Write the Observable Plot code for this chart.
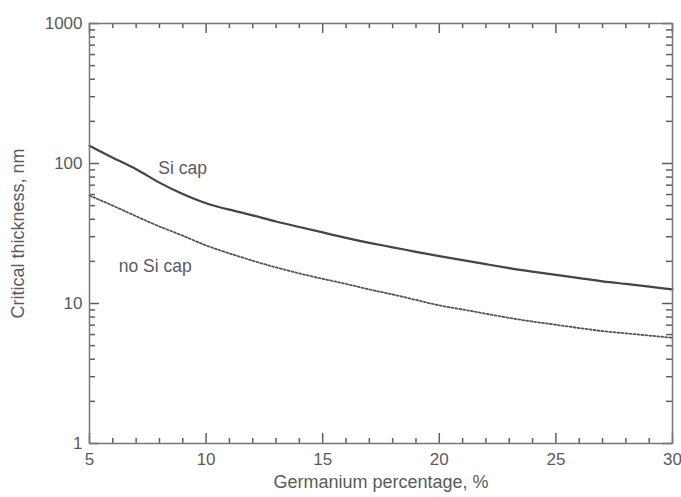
<!DOCTYPE html>
<html><head><meta charset="utf-8">
<script src="https://cdn.jsdelivr.net/npm/d3@7"></script>
<script src="https://cdn.jsdelivr.net/npm/@observablehq/plot@0.6"></script>
<style>body{margin:0;background:#fff;}</style>
</head><body><div id="chart"></div>
<script>
const germanium = [5,6,7,8,9,10,11,12,13,14,15,16,17,18,19,20,21,22,23,24,25,26,27,28,29,30];
const siCap   = [134,110,91,73,60.5,52,46.8,42.6,38.5,35.2,32.2,29.4,27.1,25.2,23.4,21.8,20.4,19.1,17.9,16.9,16.0,15.2,14.4,13.8,13.2,12.6];
const noSiCap = [59,50,42,35.5,30.5,26,22.8,20.2,18.1,16.4,15,13.8,12.6,11.6,10.6,9.7,9.06,8.45,7.89,7.43,7.05,6.68,6.35,6.12,5.9,5.69];
const xMajorTicks = [5,10,15,20,25,30];
const xMinorTicks = [6,7,8,9,11,12,13,14,16,17,18,19,21,22,23,24,26,27,28,29];
const yMajorTicks = [1,10,100,1000];
const yMinorTicks = [2,3,4,5,6,7,8,9,20,30,40,50,60,70,80,90,200,300,400,500,600,700,800,900];
const curveLabels = ["Si cap","no Si cap"];
const curveLabelX = [7.95, 6.25];
const curveLabelY = [93, 18.4];
const xTitle = "Germanium percentage, %";
const yTitle = "Critical thickness, nm";

const W = 681, H = 497, ML = 89, MR = 9, MT = 23, MB = 54;
const frameW = W - ML - MR, frameH = H - MT - MB;

const rows = germanium.map((g,i) => ({g, si: siCap[i], no: noSiCap[i]}));
const labels = curveLabels.map((t,i) => ({t, x: curveLabelX[i], y: curveLabelY[i]}));
const axisColor = "#777";
const tickColor = "#5e5e5e";
const textColor = "#5a5a5a";

const tickMarks = [];
for (const [ticks, size] of [[xMajorTicks, 10], [xMinorTicks, 5]]) {
  tickMarks.push(Plot.ruleX(ticks, {x: d => d, insetTop: frameH - size, stroke: tickColor, strokeWidth: 1.5}));
  tickMarks.push(Plot.ruleX(ticks, {x: d => d, insetBottom: frameH - size, stroke: tickColor, strokeWidth: 1.5}));
}
for (const [ticks, size] of [[yMajorTicks, 10], [yMinorTicks, 6]]) {
  tickMarks.push(Plot.ruleY(ticks, {y: d => d, insetRight: frameW - size, stroke: tickColor, strokeWidth: 1.5}));
  tickMarks.push(Plot.ruleY(ticks, {y: d => d, insetLeft: frameW - size, stroke: tickColor, strokeWidth: 1.5}));
}

const chart = Plot.plot({
  width: W,
  height: H,
  marginLeft: ML,
  marginRight: MR,
  marginTop: MT,
  marginBottom: MB,
  style: {fontFamily: "'Liberation Sans', Arial, sans-serif", fontSize: "17px", color: textColor, background: "#fff"},
  x: {domain: [5, 30]},
  y: {type: "log", domain: [1, 1000]},
  marks: [
    Plot.line(rows, {x: "g", y: "si", stroke: "#444", strokeWidth: 2.2, curve: "natural"}),
    Plot.line(rows, {x: "g", y: "no", stroke: "#555", strokeWidth: 1.8, strokeDasharray: "2,2", curve: "natural"}),
    ...tickMarks,
    Plot.frame({stroke: axisColor, strokeWidth: 1.5}),
    Plot.axisX(xMajorTicks, {anchor:"bottom", tickSize:0, tickPadding:9, label:null, fill:textColor, fontSize:17}),
    Plot.axisY(yMajorTicks, {anchor:"left", tickSize:0, tickPadding:7, label:null, fill:textColor, fontSize:17, tickFormat: d => String(d)}),
    Plot.text(labels, {x: "x", y: "y", text: "t", textAnchor: "start", fontSize: 17.5, fill: textColor}),
    Plot.text([xTitle], {frameAnchor: "bottom", textAnchor: "middle", lineAnchor: "middle", dy: 39, text: d => d, fontSize: 18, fill: textColor}),
    Plot.text([yTitle], {frameAnchor: "left", textAnchor: "middle", lineAnchor: "middle", dx: -71, rotate: -90, text: d => d, fontSize: 18, fill: textColor})
  ]
});
document.getElementById("chart").appendChild(chart);
</script>
</body></html>
